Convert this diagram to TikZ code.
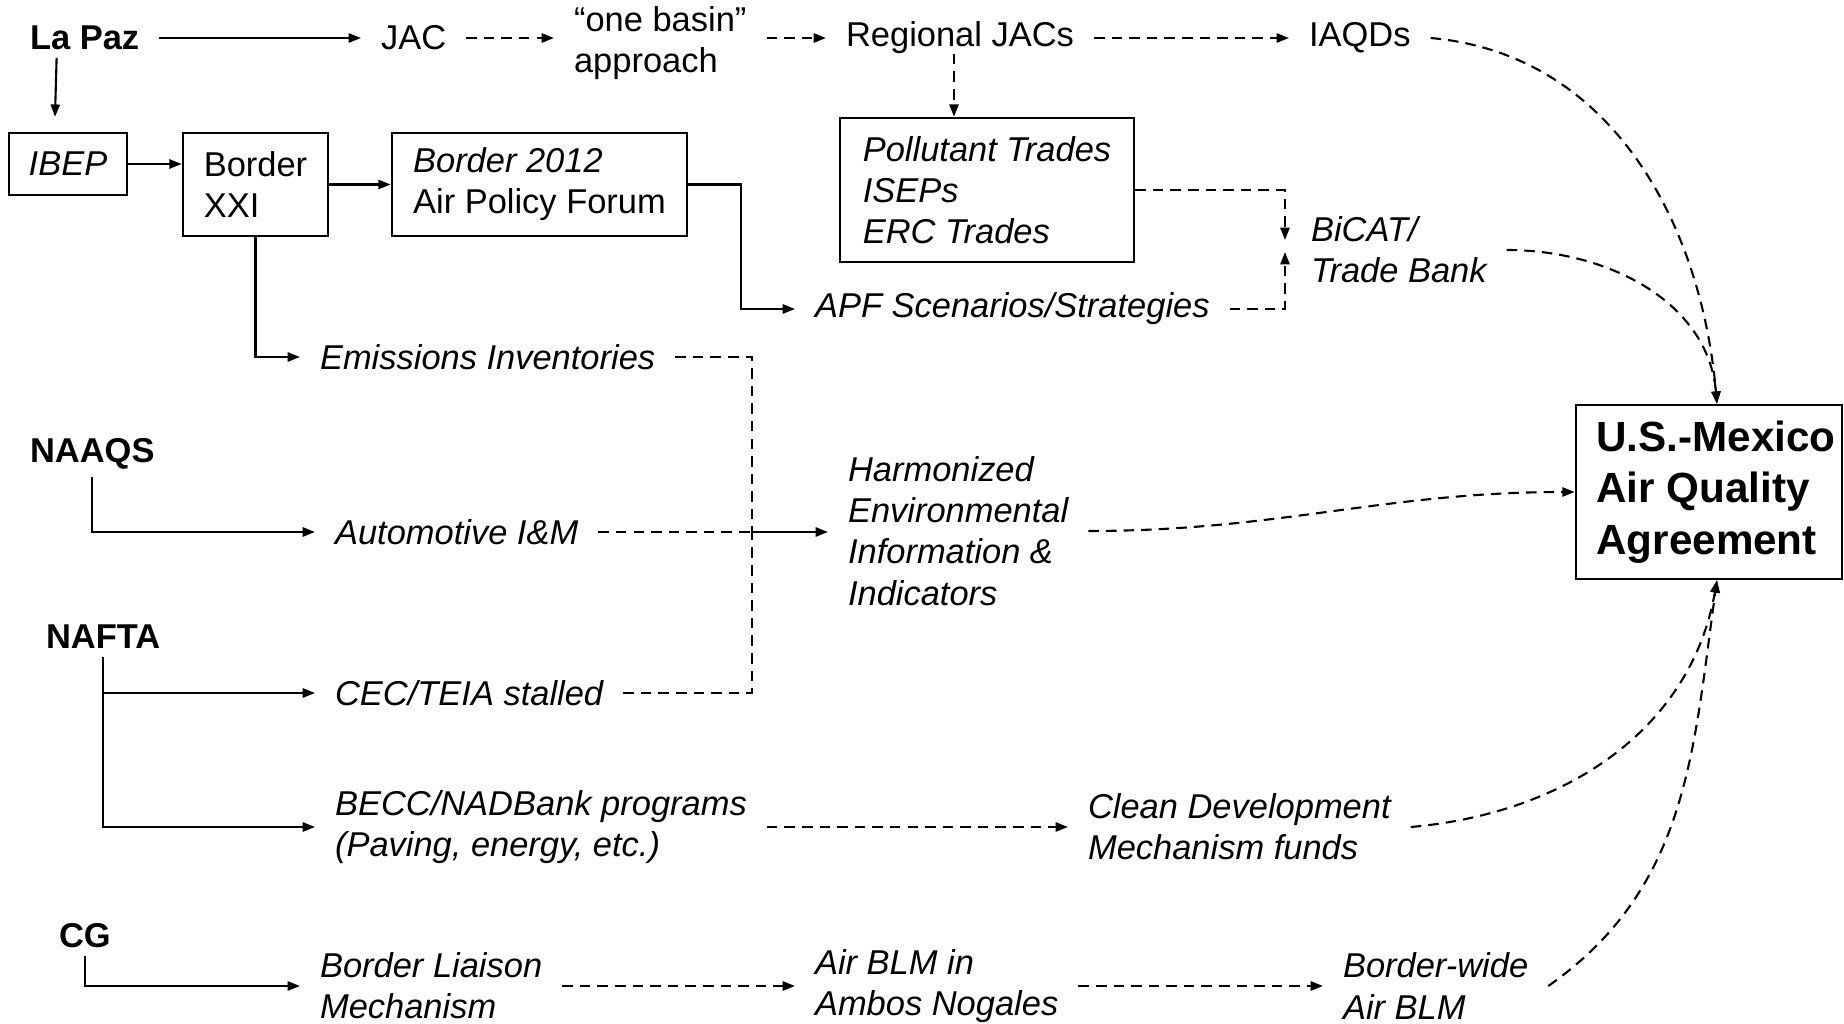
\documentclass[tikz,border=0pt]{standalone}
\usepackage{fontspec}
\setmainfont{Liberation Sans}
\usepackage{tikz}
\usetikzlibrary{arrows.meta}
\tikzstyle{lbl} = [anchor=west, align=left, inner xsep=5.5pt, inner ysep=2pt,
    font=\fontsize{9.8}{11.7}\selectfont]
\tikzstyle{ilbl} = [lbl, font=\fontsize{9.8}{11.7}\selectfont\itshape]
\tikzstyle{root} = [lbl, font=\fontsize{9.8}{11.7}\selectfont\bfseries]
\tikzstyle{stage} = [draw=black, line width=0.7pt, rectangle, align=left,
    inner sep=0pt, font=\fontsize{9.8}{11.7}\selectfont]
\tikzstyle{feed} = [line width=0.6pt, -{Triangle[length=3.5pt,width=2.6pt]}]
\tikzstyle{dfeed} = [feed, dash pattern=on 3pt off 2pt]
\tikzstyle{dline} = [line width=0.6pt, dash pattern=on 3pt off 2pt]

\begin{document}
\begin{tikzpicture}[x=0.01cm, y=-0.01cm]
    \useasboundingbox (0,0) rectangle (1844,1024);

    \node[root] (lapaz) at (10,38) {La Paz};
    \node[lbl] (jac) at (361,38) {JAC};
    \node[lbl] (basin) at (554,43) {“one basin”\\approach};
    \node[lbl] (regjac) at (826,38) {Regional JACs};
    \node[lbl] (iaqd) at (1289,38) {IAQDs};

    \node[stage, minimum width=1.18cm, minimum height=0.62cm,
        font=\fontsize{9.8}{11.7}\selectfont\itshape] (ibep) at (68,164) {IBEP};
    \node[stage, minimum width=1.45cm, minimum height=1.03cm] (bxxi) at (255.5,184.5) {Border\\XXI};
    \node[stage, minimum width=2.95cm, minimum height=1.03cm] (b2012) at (539.5,184.5)
        {\textit{Border 2012}\\Air Policy Forum};
    \node[stage, minimum width=2.94cm, minimum height=1.44cm,
        font=\fontsize{9.8}{11.7}\selectfont\itshape] (poll) at (987,190)
        {Pollutant Trades\\ISEPs\\ERC Trades};
    \node[ilbl] (bicat) at (1291,250) {BiCAT/\\Trade Bank};
    \node[ilbl] (apf) at (795,309) {APF Scenarios/Strategies};
    \node[ilbl] (emis) at (300,357) {Emissions Inventories};

    \node[root] (naaqs) at (10,454) {NAAQS};
    \node[ilbl] (auto) at (315,532) {Automotive I\&M};
    \node[ilbl] (harm) at (828,531) {Harmonized\\Environmental\\Information \&\\Indicators};
    \node[root] (nafta) at (26,637) {NAFTA};
    \node[ilbl] (cec) at (315,693) {CEC/TEIA stalled};
    \node[ilbl] (becc) at (315,827) {BECC/NADBank programs\\(Paving, energy, etc.)};
    \node[ilbl] (clean) at (1068,827) {Clean Development\\Mechanism funds};
    \node[root] (cg) at (39,936) {CG};
    \node[ilbl] (blm) at (300,986) {Border Liaison\\Mechanism};
    \node[ilbl] (airblm) at (795,986) {Air BLM in\\Ambos Nogales};
    \node[ilbl] (bwide) at (1323,986) {Border-wide\\Air BLM};

    \node[stage, minimum width=2.66cm, minimum height=1.74cm,
        font=\fontsize{12}{14.7}\selectfont\bfseries] (usmx) at (1709,492)
        {\hspace*{0.14cm}U.S.-Mexico\\\hspace*{0.14cm}Air Quality\\\hspace*{0.14cm}Agreement};

    \coordinate (bjoin) at (1285,246);
    \coordinate (hjoin) at (752,532);
    \coordinate (ustop) at ([xshift=0.08cm]usmx.north);
    \coordinate (usbot) at ([xshift=0.08cm]usmx.south);

    \draw[feed] (lapaz) -- (jac);
    \draw[dfeed] (jac) -- (basin.west |- jac);
    \draw[dfeed] (basin.east |- regjac) -- (regjac);
    \draw[dfeed] (regjac) -- (iaqd);
    \draw[feed] ([xshift=-0.28cm]lapaz.south) -- ([xshift=-0.13cm,yshift=0.15cm]ibep.north);
    \draw[feed] (ibep) -- (bxxi.west |- ibep);
    \draw[feed] (bxxi) -- (b2012);
    \draw[feed] (b2012.east) -- ++(53,0) |- (apf.west);
    \draw[feed] (bxxi.south) |- (emis.west);
    \draw[dfeed] ([xshift=-0.06cm,yshift=0.08cm]regjac.south) -- ([xshift=-0.06cm]regjac.south |- poll.north);
    \draw[dfeed] (poll.east) -| ([yshift=0.06cm]bjoin);
    \draw[dfeed] (apf.east) -| ([yshift=-0.06cm]bjoin);

    \draw[dline] (emis.east) -| (hjoin);
    \draw[dline] (cec.east) -| (hjoin);
    \draw[dline] (auto.east) -- (hjoin);
    \draw[feed] (hjoin) -- (harm.west |- hjoin);
    \draw[feed] (naaqs.south) |- (auto.west);
    \draw[feed] (nafta.south) |- (cec.west);
    \draw[feed] (nafta.south) |- (becc.west);
    \draw[feed] (cg.south) |- (blm.west);
    \draw[dfeed] (becc) -- (clean);
    \draw[dfeed] (blm) -- (airblm);
    \draw[dfeed] (airblm) -- (bwide);

    \draw[dfeed] (iaqd.east) to[out=-5,in=95] (ustop);
    \draw[dfeed] (bicat.east) to[out=0,in=95] (ustop);
    \draw[dfeed] (harm.east) to[out=0,in=180] (usmx.west);
    \draw[dfeed] (clean.east) to[out=5,in=-100] (usbot);
    \draw[dfeed] (bwide.east) to[out=35,in=-98] (usbot);
\end{tikzpicture}
\end{document}
